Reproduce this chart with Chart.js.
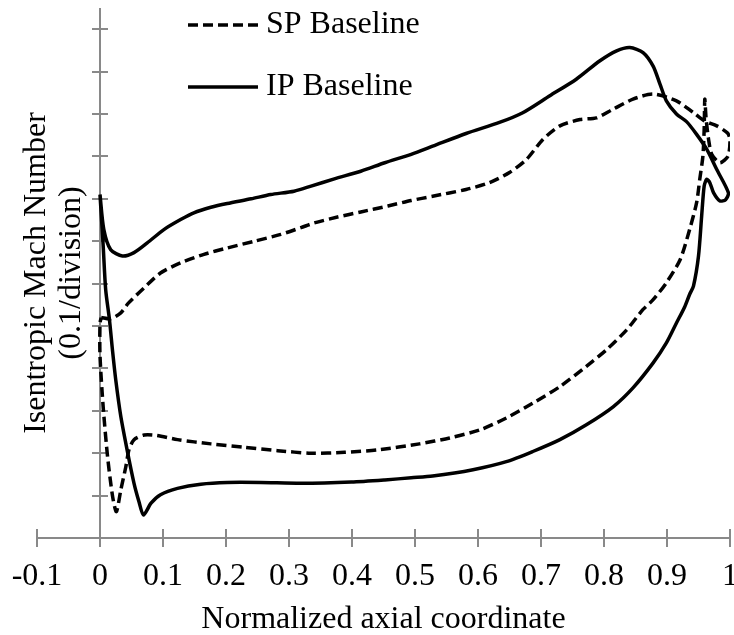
<!DOCTYPE html>
<html>
<head>
<meta charset="utf-8">
<script src="https://cdn.jsdelivr.net/npm/chart.js@4.4.1/dist/chart.umd.min.js"></script>
<style>
html,body{margin:0;padding:0;background:#ffffff;}
canvas{display:block;}
</style>
</head>
<body>
<canvas id="chart" width="734" height="635"></canvas>
<script>
// ---- data (x: normalized axial coordinate, y: Mach number in 0.1 divisions) ----
const seriesNames = ['SP Baseline', 'IP Baseline'];
const xTickValues = [-0.1, 0, 0.1, 0.2, 0.3, 0.4, 0.5, 0.6, 0.7, 0.8, 0.9, 1];
const yDivisions = [1, 2, 3, 4, 5, 6, 7, 8, 9, 10, 11, 12];
const xTitle = 'Normalized axial coordinate';
const yTitleLines = ['Isentropic Mach Number', '(0.1/division)'];

const spX = [0.002, 0.017, 0.033, 0.045, 0.070, 0.096, 0.128, 0.165, 0.202, 0.245, 0.287, 0.319, 0.340, 0.377, 0.414, 0.457, 0.494, 0.528, 0.581, 0.618, 0.650, 0.677, 0.703, 0.730, 0.762, 0.788, 0.814, 0.846, 0.878, 0.915, 0.942, 0.960, 0.979, 0.996, 1.000, 0.997, 0.984, 0.971, 0.966, 0.962, 0.960, 0.959, 0.957, 0.952, 0.947, 0.936, 0.921, 0.899, 0.878, 0.862, 0.836, 0.804, 0.772, 0.730, 0.687, 0.645, 0.603, 0.555, 0.507, 0.441, 0.388, 0.335, 0.282, 0.229, 0.176, 0.123, 0.090, 0.070, 0.054, 0.046, 0.041, 0.033, 0.026, 0.020, 0.012, 0.005, 0.000, 0.000, 0.002];
const spY = [5.20, 5.17, 5.31, 5.54, 5.90, 6.25, 6.49, 6.69, 6.84, 7.00, 7.16, 7.32, 7.43, 7.57, 7.69, 7.83, 7.96, 8.06, 8.22, 8.38, 8.62, 8.93, 9.40, 9.72, 9.87, 9.91, 10.11, 10.35, 10.47, 10.31, 10.03, 9.83, 9.72, 9.55, 9.40, 9.01, 8.85, 9.05, 9.40, 9.90, 10.35, 9.64, 9.01, 8.46, 7.91, 7.28, 6.57, 6.02, 5.62, 5.39, 4.91, 4.44, 4.05, 3.57, 3.18, 2.83, 2.55, 2.36, 2.22, 2.08, 2.02, 2.00, 2.06, 2.14, 2.22, 2.32, 2.42, 2.43, 2.32, 2.08, 1.68, 1.13, 0.62, 0.98, 1.92, 3.10, 4.30, 5.07, 5.20];

const ipX = [0.000, 0.006, 0.017, 0.0355, 0.054, 0.075, 0.102, 0.128, 0.149, 0.176, 0.202, 0.240, 0.271, 0.308, 0.335, 0.372, 0.414, 0.452, 0.494, 0.528, 0.581, 0.634, 0.671, 0.714, 0.756, 0.793, 0.820, 0.841, 0.862, 0.878, 0.889, 0.899, 0.915, 0.931, 0.947, 0.963, 0.979, 0.9975, 0.993, 0.984, 0.974, 0.968, 0.963, 0.959, 0.955, 0.950, 0.942, 0.936, 0.928, 0.915, 0.899, 0.878, 0.846, 0.815, 0.772, 0.730, 0.687, 0.645, 0.592, 0.528, 0.494, 0.452, 0.399, 0.319, 0.255, 0.202, 0.160, 0.123, 0.096, 0.081, 0.069, 0.062, 0.054, 0.043, 0.033, 0.025, 0.020, 0.015, 0.009, 0.005, 0.000];
const ipY = [8.10, 7.28, 6.80, 6.65, 6.73, 6.96, 7.28, 7.51, 7.67, 7.80, 7.89, 8.00, 8.10, 8.18, 8.30, 8.47, 8.65, 8.85, 9.05, 9.24, 9.54, 9.80, 10.03, 10.43, 10.82, 11.25, 11.49, 11.57, 11.45, 11.13, 10.70, 10.31, 10.00, 9.82, 9.52, 9.17, 8.69, 8.14, 7.98, 7.95, 8.14, 8.38, 8.46, 8.30, 7.59, 6.65, 5.94, 5.75, 5.45, 5.07, 4.60, 4.13, 3.54, 3.10, 2.67, 2.32, 2.04, 1.80, 1.61, 1.46, 1.42, 1.37, 1.32, 1.29, 1.31, 1.31, 1.27, 1.17, 1.02, 0.82, 0.54, 0.85, 1.29, 2.08, 2.87, 3.73, 4.40, 5.15, 5.86, 6.90, 8.10];

const FONT = '"Liberation Serif", "Times New Roman", serif';
const AXIS_GRAY = '#898989';

function toPoints(xs, ys) { return xs.map((x, i) => ({ x: x, y: ys[i] })); }

// axes crossing at (0,0) with tick marks crossing the lines
const crossAxes = {
  id: 'crossAxes',
  beforeDatasetsDraw(chart) {
    const { ctx, chartArea: a, scales: { x, y } } = chart;
    const x0 = x.getPixelForValue(0);
    const y0 = y.getPixelForValue(0);
    ctx.save();
    ctx.strokeStyle = AXIS_GRAY;
    ctx.lineWidth = 2;
    ctx.beginPath();
    ctx.moveTo(a.left, y0); ctx.lineTo(a.right, y0);
    ctx.moveTo(x0, a.top); ctx.lineTo(x0, y0);
    xTickValues.forEach(v => {
      const px = Math.round(x.getPixelForValue(v));
      ctx.moveTo(px, y0 - 9); ctx.lineTo(px, y0 + 9);
    });
    yDivisions.forEach(v => {
      const py = Math.round(y.getPixelForValue(v));
      ctx.moveTo(x0 - 8, py); ctx.lineTo(x0 + 8, py);
    });
    ctx.stroke();
    ctx.restore();
  },
  afterDraw(chart) {
    const { ctx, chartArea: a } = chart;
    ctx.save();
    ctx.fillStyle = '#000';
    ctx.font = '32px ' + FONT;
    // y-axis title (rotated, two lines)
    ctx.textAlign = 'center';
    ctx.textBaseline = 'alphabetic';
    const cy = (a.top + a.bottom) / 2;
    const baseX = [45, 80];
    yTitleLines.forEach((t, i) => {
      ctx.save();
      ctx.translate(baseX[i], cy);
      ctx.rotate(-Math.PI / 2);
      ctx.fillText(t, 0, 0);
      ctx.restore();
    });
    // legend
    const legendY = [25, 87];
    ctx.textAlign = 'left';
    ctx.textBaseline = 'middle';
    chart.data.datasets.forEach((ds, i) => {
      ctx.strokeStyle = ds.borderColor;
      ctx.lineWidth = ds.borderWidth;
      ctx.setLineDash(ds.borderDash || []);
      ctx.beginPath();
      ctx.moveTo(188, legendY[i]);
      ctx.lineTo(258, legendY[i]);
      ctx.stroke();
      ctx.fillText(ds.label, 266, legendY[i]);
    });
    ctx.restore();
  }
};

new Chart(document.getElementById('chart'), {
  type: 'scatter',
  data: {
    datasets: [
      {
        label: seriesNames[0],
        data: toPoints(spX, spY),
        showLine: true,
        borderColor: '#000000',
        borderWidth: 3.5,
        borderDash: [10, 5],
        tension: 0.25,
        pointRadius: 0,
        fill: false,
        borderJoinStyle: 'round'
      },
      {
        label: seriesNames[1],
        data: toPoints(ipX, ipY),
        showLine: true,
        borderColor: '#000000',
        borderWidth: 3.5,
        tension: 0.25,
        pointRadius: 0,
        fill: false,
        borderJoinStyle: 'round'
      }
    ]
  },
  options: {
    responsive: false,
    animation: false,
    devicePixelRatio: 1,
    layout: { padding: { left: 37, right: 4, top: 8, bottom: 0 } },
    plugins: {
      legend: { display: false },
      tooltip: { enabled: false },
      title: { display: false }
    },
    scales: {
      x: {
        type: 'linear',
        position: 'bottom',
        min: -0.1,
        max: 1,
        grid: { display: false, drawTicks: false, tickLength: 0 },
        border: { display: false },
        afterBuildTicks(s) { s.ticks = xTickValues.map(v => ({ value: v })); },
        afterFit(s) { s.paddingLeft = 0; s.paddingRight = 0; },
        ticks: {
          padding: 19.8,
          color: '#000',
          autoSkip: false,
          maxRotation: 0,
          font: { family: FONT, size: 32, lineHeight: 1.2 },
          callback: (v) => String(Math.round(v * 10) / 10)
        },
        title: {
          display: true,
          text: xTitle,
          color: '#000',
          font: { family: FONT, size: 32, lineHeight: 0.25 },
          padding: { top: 0, bottom: 11 }
        }
      },
      y: {
        type: 'linear',
        display: false,
        min: 0,
        max: 12.5
      }
    }
  },
  plugins: [crossAxes]
});
</script>
</body>
</html>
